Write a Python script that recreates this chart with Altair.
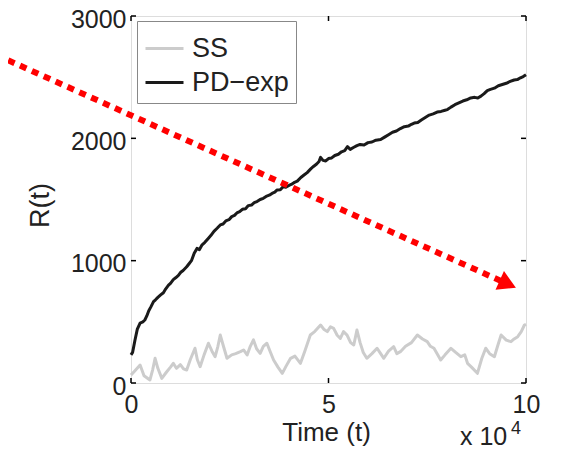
import altair as alt
import pandas as pd

FONT = "Liberation Sans"

series_names = ["SS", "PD−exp"]
series_colors = ["#cccccc", "#1a1a1a"]

# PD-exp (time in units of 10^4)
pd_t = [0.0, 0.04, 0.1, 0.16, 0.23, 0.3, 0.35, 0.4,
        0.45, 0.5, 0.57, 0.62, 0.68, 0.75, 0.82, 0.88, 0.95, 1.0,
        1.07, 1.13, 1.2, 1.26, 1.32, 1.41, 1.47, 1.53, 1.6, 1.67,
        1.73, 1.8, 1.87, 1.95, 2.02, 2.1, 2.18, 2.26, 2.33, 2.4,
        2.48, 2.55, 2.62, 2.68, 2.75, 2.82, 2.9, 2.97, 3.05, 3.12,
        3.19, 3.27, 3.35, 3.42, 3.5, 3.57, 3.64, 3.7, 3.78, 3.85,
        3.92, 4.0, 4.07, 4.14, 4.21, 4.3, 4.38, 4.46, 4.55, 4.62,
        4.7, 4.76, 4.8, 4.86, 4.93, 5.0, 5.08, 5.16, 5.25, 5.33,
        5.41, 5.48, 5.55, 5.63, 5.72, 5.8, 5.9, 6.0, 6.1, 6.2,
        6.32, 6.42, 6.52, 6.62, 6.72, 6.82, 6.92, 7.02, 7.1, 7.17,
        7.26, 7.35, 7.45, 7.55, 7.65, 7.75, 7.85, 7.95, 8.01, 8.1,
        8.2, 8.3, 8.4, 8.5, 8.6, 8.7, 8.78, 8.86, 8.94, 9.02,
        9.1, 9.2, 9.3, 9.4, 9.5, 9.6, 9.7, 9.78, 9.86, 9.93, 10.0]
pd_r = [230, 250, 350, 440, 490, 500, 515, 548,
        590, 620, 665, 680, 700, 720, 738, 770, 800, 815,
        845, 860, 880, 905, 920, 950, 975, 1000, 1060, 1100,
        1090, 1130, 1150, 1180, 1205, 1240, 1265, 1292, 1300, 1325,
        1335, 1360, 1370, 1390, 1400, 1420, 1425, 1450, 1455, 1475,
        1483, 1500, 1510, 1525, 1535, 1550, 1560, 1578, 1580, 1605,
        1600, 1615, 1625, 1640, 1650, 1680, 1700, 1720, 1750, 1770,
        1790, 1810, 1845, 1820, 1815, 1835, 1840, 1860, 1870, 1890,
        1900, 1932, 1910, 1925, 1940, 1950, 1945, 1965, 1970, 1985,
        1990, 2010, 2030, 2050, 2060, 2080, 2095, 2100, 2115, 2125,
        2130, 2150, 2170, 2190, 2200, 2215, 2220, 2230, 2235, 2255,
        2275, 2290, 2305, 2315, 2330, 2335, 2330, 2345, 2365, 2390,
        2400, 2410, 2430, 2440, 2450, 2465, 2477, 2480, 2495, 2505, 2520]

# SS
ss_t = [0.0, 0.1, 0.23, 0.33, 0.48, 0.55, 0.61, 0.68, 0.78, 0.9,
        1.0, 1.07, 1.15, 1.25, 1.33, 1.41, 1.5, 1.62, 1.68, 1.75,
        1.85, 1.96, 2.05, 2.13, 2.2, 2.26, 2.35, 2.43, 2.55, 2.65,
        2.77, 2.85, 2.94, 3.02, 3.1, 3.18, 3.27, 3.35, 3.44, 3.52,
        3.61, 3.72, 3.83, 3.93, 4.04, 4.15, 4.29, 4.4, 4.54, 4.65,
        4.8, 4.88, 4.97, 5.05, 5.13, 5.22, 5.3, 5.38, 5.47, 5.56,
        5.64, 5.72, 5.8, 5.88, 5.97, 6.1, 6.23, 6.32, 6.4, 6.52,
        6.65, 6.73, 6.82, 6.95, 7.1, 7.25, 7.38, 7.5, 7.58, 7.67,
        7.75, 7.84, 7.95, 8.1, 8.22, 8.35, 8.45, 8.52, 8.62, 8.77,
        8.88, 8.98, 9.08, 9.2, 9.28, 9.37, 9.5, 9.62, 9.7, 9.79, 9.88, 9.96, 10.0]
ss_r = [65, 100, 147, 60, 25, 110, 202, 120, 38, 90,
        130, 161, 120, 150, 115, 106, 190, 284, 190, 133,
        230, 325, 260, 215, 300, 392, 290, 202, 230, 240,
        256, 270, 229, 300, 352, 280, 242, 300, 325, 260,
        188, 130, 79, 140, 202, 220, 161, 260, 392, 420,
        474, 440, 420, 460, 447, 390, 365, 420, 392, 330,
        311, 433, 330, 250, 202, 240, 284, 240, 202, 260,
        297, 240, 256, 300, 330, 392, 360, 338, 300, 284,
        240, 188, 230, 284, 250, 215, 230, 161, 130, 79,
        200, 284, 240, 215, 300, 392, 350, 338, 360, 379, 420, 474, 480]

x_ticks = [0, 5, 10]
y_ticks = [0, 1000, 2000, 3000]

# red dotted annotation arrow (data units)
arrow_t = [-3.11, 9.54]
arrow_r = [2638, 809]
arrow_angle = 24.3

W, H = 395, 367

df = pd.concat([
    pd.DataFrame({"t": ss_t, "r": ss_r, "series": series_names[0]}),
    pd.DataFrame({"t": pd_t, "r": pd_r, "series": series_names[1]}),
])

xs = alt.Scale(domain=[0, 10], nice=False, zero=False)
ys = alt.Scale(domain=[0, 3000], nice=False)

lines = alt.Chart(df).mark_line(strokeWidth=3, strokeJoin="round").encode(
    x=alt.X("t:Q", scale=xs, axis=alt.Axis(
        values=x_ticks, format="d", title="Time (t)", grid=False, domain=False, ticks=False, tickSize=0,
        labelFlush=False, labelOverlap=False,
        labelFontSize=25, labelPadding=9, labelColor="#222", labelFont=FONT,
        titleFontSize=26, titleFont=FONT, titleFontWeight="normal", titleColor="#222",
        titleX=195, titleY=57, titleBaseline="alphabetic", titleAlign="center")),
    y=alt.Y("r:Q", scale=ys, axis=alt.Axis(
        values=y_ticks, format="d", title="R(t)", grid=False, domain=False, ticks=False, tickSize=0,
        labelFlush=False, labelOverlap=False, labelOffset=3,
        labelFontSize=25, labelPadding=5, labelColor="#222", labelFont=FONT,
        titleFontSize=27, titleFont=FONT, titleFontWeight="normal", titleColor="#222",
        titleX=-91, titleY=189, titleBaseline="middle", titleAlign="center")),
    color=alt.Color("series:N", scale=alt.Scale(domain=series_names, range=series_colors),
                    legend=alt.Legend(
                        title=None, orient="none", legendX=6, legendY=5,
                        symbolType="stroke", symbolSize=1444, symbolStrokeWidth=3,
                        symbolOffset=0, labelOffset=7,
                        labelFontSize=27, labelFont=FONT, labelColor="#222",
                        padding=7, strokeColor="#888888", fillColor="white",
                        rowPadding=0)),
)

arrow_df = pd.DataFrame({"t": arrow_t, "r": arrow_r})
arrow_line = alt.Chart(arrow_df).mark_line(
    color="#ff0000", strokeWidth=6, strokeDash=[7, 6], strokeCap="butt"
).encode(x=alt.X("t:Q", scale=xs), y=alt.Y("r:Q", scale=ys))

head_df = pd.DataFrame({"t": arrow_t[1:], "r": arrow_r[1:]})
arrow_head = alt.Chart(head_df).mark_point(
    shape="triangle-right", filled=True, color="#ff0000", size=420, opacity=1,
    angle=arrow_angle, strokeWidth=0
).encode(x=alt.X("t:Q", scale=xs), y=alt.Y("r:Q", scale=ys))

xt_df = pd.DataFrame({"t": x_ticks})
yt_df = pd.DataFrame({"r": y_ticks})
tick_kw = dict(color="black", strokeWidth=1.5)
xt_bot = alt.Chart(xt_df).mark_rule(**tick_kw).encode(
    x=alt.X("t:Q", scale=xs), y=alt.value(H), y2=alt.value(H - 5))
xt_top = alt.Chart(xt_df).mark_rule(**tick_kw).encode(
    x=alt.X("t:Q", scale=xs), y=alt.value(0), y2=alt.value(5))
yt_left = alt.Chart(yt_df).mark_rule(**tick_kw).encode(
    y=alt.Y("r:Q", scale=ys), x=alt.value(0), x2=alt.value(5))
yt_right = alt.Chart(yt_df).mark_rule(**tick_kw).encode(
    y=alt.Y("r:Q", scale=ys), x=alt.value(W), x2=alt.value(W - 5))

one = pd.DataFrame({"a": [0]})
exp_base = alt.Chart(one).mark_text(
    text="x 10", fontSize=25, font=FONT, color="#222", align="left", baseline="alphabetic"
).encode(x=alt.value(329), y=alt.value(429))
exp_sup = alt.Chart(one).mark_text(
    text="4", fontSize=18, font=FONT, color="#222", align="left", baseline="alphabetic"
).encode(x=alt.value(380), y=alt.value(418))

chart = alt.layer(
    lines, xt_bot, xt_top, yt_left, yt_right, arrow_line, arrow_head, exp_base, exp_sup
).properties(
    width=W, height=H,
    autosize=alt.AutoSizeParams(type="none"),
    padding={"left": 123, "top": 8, "right": 27, "bottom": 68},
).configure_view(
    stroke="black", strokeWidth=2
).configure(background="white")

chart.save("out.html", embed_options={"renderer": "svg", "actions": False})
